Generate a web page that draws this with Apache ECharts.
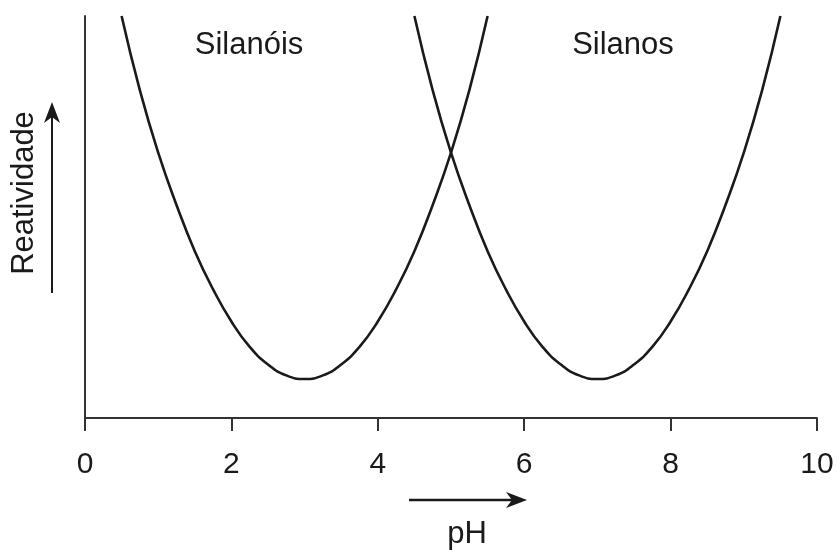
<!DOCTYPE html>
<html>
<head>
<meta charset="utf-8">
<title>Reatividade x pH</title>
<script src="https://cdn.jsdelivr.net/npm/echarts@6/dist/echarts.min.js"></script>
<style>
  html, body { margin: 0; padding: 0; background: #fff; }
  #chart { width: 838px; height: 550px; }
</style>
</head>
<body>
<div id="chart"></div>
<script>
// valores (reatividade em unidades arbitrárias, 0-100)
var phSilanois = [0.5, 0.75, 1, 1.25, 1.5, 1.75, 2, 2.25, 2.5, 2.75, 3, 3.25, 3.5, 3.75, 4, 4.25, 4.5, 4.75, 5, 5.25, 5.5];
var silanois   = [100, 81.5, 66, 53, 41.5, 32, 24, 17.7, 13.3, 10.6, 9.7, 10.6, 13.3, 17.7, 24, 32, 41.5, 53, 66, 81.5, 100];

var phSilanos  = [4.5, 4.75, 5, 5.25, 5.5, 5.75, 6, 6.25, 6.5, 6.75, 7, 7.25, 7.5, 7.75, 8, 8.25, 8.5, 8.75, 9, 9.25, 9.5];
var silanos    = [100, 81.5, 66, 53, 41.5, 32, 24, 17.7, 13.3, 10.6, 9.7, 10.6, 13.3, 17.7, 24, 32, 41.5, 53, 66, 81.5, 100];

var xTicks = [0, 2, 4, 6, 8, 10];

function pairs(xs, ys) {
  var out = [];
  for (var i = 0; i < xs.length; i++) {
    out.push([xs[i], ys[i]]);
  }
  return out;
}

var chart = echarts.init(document.getElementById('chart'), null, { renderer: 'canvas' });
var font = '"Liberation Sans", Arial, sans-serif';
var ink = '#1a1a1a';

var option = {
  animation: false,
  backgroundColor: '#fff',
  textStyle: { fontFamily: font },
  grid: { left: 85, right: 21, top: 16, bottom: 132, containLabel: false, outerBoundsMode: 'none' },
  xAxis: {
    type: 'value',
    min: 0,
    max: 10,
    interval: 2,
    axisLine: { lineStyle: { color: '#333', width: 2 } },
    axisTick: { show: true, length: 13, lineStyle: { color: '#333', width: 2 } },
    axisLabel: {
      margin: 32,
      fontSize: 30,
      color: ink,
      fontFamily: font,
      formatter: function (v) { return xTicks.indexOf(v) >= 0 ? String(v) : ''; }
    },
    splitLine: { show: false }
  },
  yAxis: {
    type: 'value',
    min: 0,
    max: 100,
    axisLine: { show: true, lineStyle: { color: '#333', width: 2 } },
    axisTick: { show: false },
    axisLabel: { show: false },
    splitLine: { show: false }
  },
  series: [
    {
      name: 'Silanóis',
      type: 'line',
      smooth: true,
      showSymbol: false,
      clip: true,
      lineStyle: { color: ink, width: 2.6 },
      data: pairs(phSilanois, silanois)
    },
    {
      name: 'Silanos',
      type: 'line',
      smooth: true,
      showSymbol: false,
      clip: true,
      lineStyle: { color: ink, width: 2.6 },
      data: pairs(phSilanos, silanos)
    }
  ],
  graphic: [
    { type: 'text', x: 249, y: 45, style: { text: 'Silanóis', font: '31px ' + font, fill: ink, align: 'center', verticalAlign: 'middle' } },
    { type: 'text', x: 623, y: 45, style: { text: 'Silanos', font: '31px ' + font, fill: ink, align: 'center', verticalAlign: 'middle' } },
    { type: 'text', x: 467, y: 534, style: { text: 'pH', font: '31px ' + font, fill: ink, align: 'center', verticalAlign: 'middle' } },
    { type: 'text', x: 24, y: 193, rotation: Math.PI / 2, style: { text: 'Reatividade', font: '31px ' + font, fill: ink, align: 'center', verticalAlign: 'middle' } },
    // seta vertical
    { type: 'line', shape: { x1: 52, y1: 293, x2: 52, y2: 115 }, style: { stroke: ink, lineWidth: 2 } },
    { type: 'polygon', shape: { points: [[52, 102], [44, 123], [52, 117], [60, 123]] }, style: { fill: ink } },
    // seta horizontal
    { type: 'line', shape: { x1: 409, y1: 500, x2: 514, y2: 500 }, style: { stroke: ink, lineWidth: 2.4 } },
    { type: 'polygon', shape: { points: [[527, 500], [506, 492], [512, 500], [506, 508]] }, style: { fill: ink } }
  ]
};

chart.setOption(option);
</script>
</body>
</html>
